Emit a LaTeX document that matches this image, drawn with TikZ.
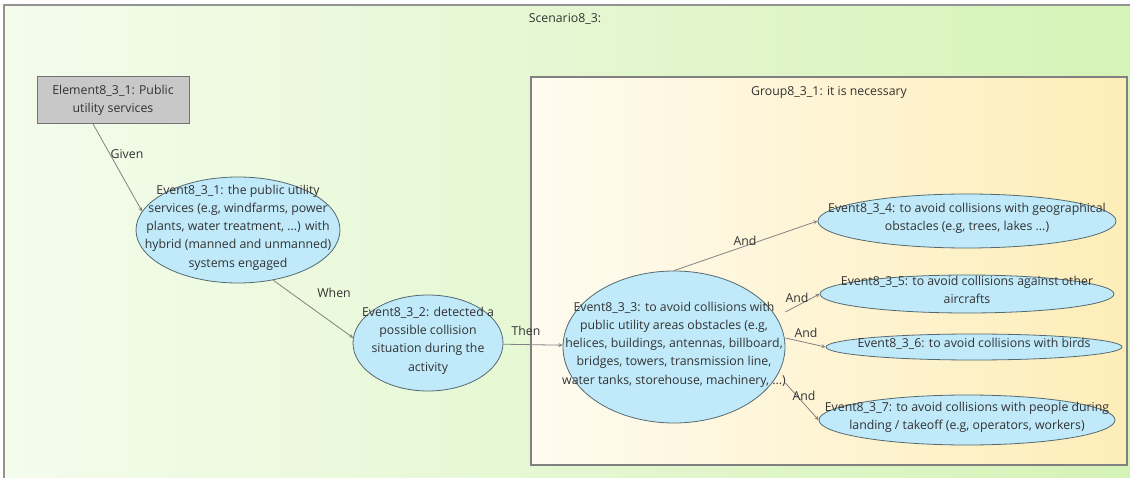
\documentclass[tikz,border=0pt]{standalone}
\usepackage{fontspec}
\setmainfont{Open Sans}
\usepackage{tikz}
\usetikzlibrary{arrows,shapes,positioning}
\usepackage{xcolor}
\definecolor{scgreen}{RGB}{198,238,156}
\definecolor{grpyellow}{RGB}{252,230,155}
\definecolor{evblue}{RGB}{192,234,250}
\definecolor{evline}{RGB}{85,105,112}
\definecolor{elgray}{RGB}{200,200,200}
\definecolor{linkgray}{RGB}{130,130,130}
\definecolor{txtgray}{RGB}{50,50,50}
\pgfdeclarehorizontalshading{scfade}{100bp}{color(0bp)=(white); color(7bp)=(white); color(100bp)=(scgreen)}
\pgfdeclarehorizontalshading{grpfade}{100bp}{color(0bp)=(white); color(12bp)=(white); color(100bp)=(grpyellow)}
% centred lines that do not widen the ellipse around them
\newcommand{\evtext}[1]{\smash{\makebox[0pt]{\begin{tabular}{@{}c@{}}#1\end{tabular}}}}
\tikzstyle{link} = [->,>=stealth,line width=0.8pt,color=linkgray]
\tikzstyle{event} = [ellipse, draw=evline, fill=evblue, line width=0.8pt, inner sep=0pt]
\tikzstyle{element} = [rectangle, draw=gray!90!black, fill=elgray, line width=0.8pt, inner sep=0pt, align=center]

\begin{document}
\begin{tikzpicture}[x=1pt, y=-1pt, every node/.style={font=\fontsize{12.3}{18.3}\selectfont, text=txtgray}]
    \useasboundingbox (0,0) rectangle (1130,478);

    % Scenario frame
    \path[shading=scfade] (4,5) rectangle (1145,490);
    \draw[line width=1.2pt, color=gray!85] (4,5) rectangle (1145,490);
    \node (scentitle) at (565,19) {Scenario8\_3:};

    % Group frame
    \path[shading=grpfade] (531,77) rectangle (1127,465);
    \draw[line width=1.3pt, color=gray] (531,77) rectangle (1127,465);
    \node (grptitle) at (829,92) {Group8\_3\_1: it is necessary};

    % Given / When / Then chain
    \node[element, minimum width=152pt, minimum height=47pt] (elem) at (113,100) {Element8\_3\_1: Public\\utility services};
    \node[event, minimum width=204pt, minimum height=106pt] (ev1) at (238,230) {\evtext{Event8\_3\_1: the public utility\\services (e.g, windfarms, power\\plants, water treatment, ...) with\\hybrid (manned and unmanned)\\systems engaged}};
    \node[event, minimum width=150pt, minimum height=96pt] (ev2) at (428,343) {\evtext{Event8\_3\_2: detected a\\possible collision\\situation during the\\activity}};
    \node[event, minimum width=222pt, minimum height=152pt] (ev3) at (674,347) {\evtext{Event8\_3\_3: to avoid collisions with\\public utility areas obstacles (e.g,\\helices, buildings, antennas, billboard,\\bridges, towers, transmission line,\\water tanks, storehouse, machinery, ...)}};

    % And branches
    \node[event, minimum width=298pt, minimum height=54pt] (ev4) at (967,221) {\evtext{Event8\_3\_4: to avoid collisions with geographical\\obstacles (e.g, trees, lakes ...)}};
    \node[event, minimum width=294pt, minimum height=38pt] (ev5) at (967,294) {\evtext{Event8\_3\_5: to avoid collisions against other\\aircrafts}};
    \node[event, minimum width=296pt, minimum height=26pt] (ev6) at (974,347) {\evtext{Event8\_3\_6: to avoid collisions with birds}};
    \node[event, minimum width=296pt, minimum height=50pt] (ev7) at (967,420) {\evtext{Event8\_3\_7: to avoid collisions with people during\\landing / takeoff (e.g, operators, workers)}};

    \draw[link] ([xshift=-20pt]elem.south) -- (ev1.169);
    \draw[link] (ev1.-55) -- (ev2.176);
    \draw[link] (ev2) -- (ev3);
    \draw[link] (ev3.north) -- (ev4.west);
    \draw[link] ([yshift=35pt]ev3.east) -- (ev5.west);
    \draw[link] ([yshift=9pt]ev3.east) -- (ev6.west);
    \draw[link] ([yshift=-36pt]ev3.east) -- (ev7.west);

    \node (lgiven) at (127,154) {Given};
    \node (lwhen) at (334,293) {When};
    \node (lthen) at (526,331) {Then};
    \node (land4) at (745,241) {And};
    \node (land5) at (797,298) {And};
    \node (land6) at (806,333) {And};
    \node (land7) at (804,396) {And};
\end{tikzpicture}
\end{document}
